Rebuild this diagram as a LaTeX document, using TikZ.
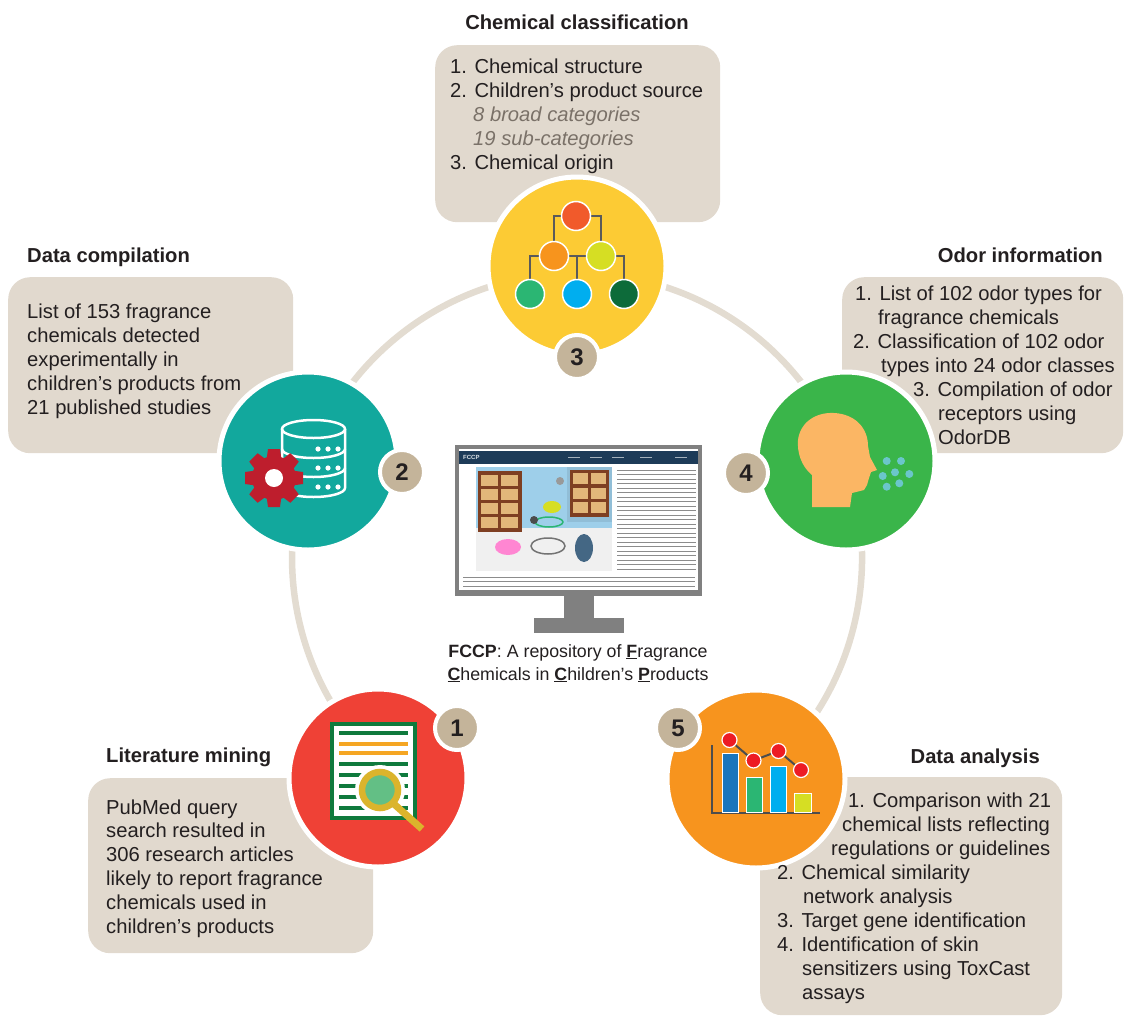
\documentclass[tikz,border=0pt]{standalone}
\usepackage{fontspec}
\setmainfont{Liberation Sans}
\usetikzlibrary{positioning}
\definecolor{panelbeige}{HTML}{E1D9CE}
\definecolor{ringbeige}{HTML}{E3DCD1}
\definecolor{badgetan}{HTML}{C4B49A}
\definecolor{textdark}{HTML}{231F20}
\definecolor{italgray}{HTML}{7A7168}
\definecolor{stagered}{HTML}{EF4136}
\definecolor{stageteal}{HTML}{12A89D}
\definecolor{stageyellow}{HTML}{FCCB34}
\definecolor{stagegreen}{HTML}{3AB54A}
\definecolor{stageorange}{HTML}{F7941E}
\definecolor{gearred}{HTML}{BE1E2D}
\definecolor{headorange}{HTML}{FBB664}
\definecolor{dotteal}{HTML}{6BC6CB}
\definecolor{docgreen}{HTML}{0F7A3D}
\definecolor{docorange}{HTML}{F5A623}
\definecolor{lensgold}{HTML}{DBB42C}
\definecolor{lensgreen}{HTML}{63BF85}
\definecolor{treegray}{HTML}{5A5A5A}
\definecolor{chemA}{HTML}{F15A2B}
\definecolor{chemB}{HTML}{F7941D}
\definecolor{chemC}{HTML}{D6DE23}
\definecolor{chemD}{HTML}{2BB673}
\definecolor{chemE}{HTML}{00AEEF}
\definecolor{chemF}{HTML}{0D6B3A}
\definecolor{barblue}{HTML}{1B75BB}
\definecolor{dotred}{HTML}{ED1C24}
\definecolor{axisgray}{HTML}{4D4D4D}
\definecolor{monitorgray}{HTML}{808080}
\definecolor{navy}{HTML}{1D3B58}
\definecolor{skyblue}{HTML}{9ECFEA}
\definecolor{shelfbrown}{HTML}{7E3F22}
\definecolor{shelftan}{HTML}{E2B77A}
\newcommand\panelfont{\fontsize{20.2}{24.2}\selectfont}
\newcommand\captionfont{\fontsize{17.8}{23}\selectfont}

\begin{document}
\begin{tikzpicture}[x=1pt, y=-1pt,
    panel/.style={fill=panelbeige, rounded corners=22pt, inner sep=0pt, anchor=north west},
    stage/.style={circle, draw=white, line width=5pt, minimum size=178pt, inner sep=0pt},
    badge/.style={circle, fill=badgetan, draw=white, line width=4pt, minimum size=44pt,
      inner sep=0pt, text=textdark, font=\bfseries\fontsize{24}{24}\selectfont},
    heading/.style={font=\bfseries\panelfont, text=textdark, inner sep=0pt},
    body/.style={font=\panelfont, text=textdark, inner sep=0pt, anchor=base west},
    chem/.style={circle, draw=white, line width=1.5pt, minimum size=29pt, inner sep=0pt},
    bar/.style={draw=white, line width=1pt},
    mark dot/.style={circle, fill=dotred, draw=white, line width=1.2pt, minimum size=15pt, inner sep=0pt}
  ]
  \useasboundingbox (0,0) rectangle (1124,1017);

  % arc joining the five stages, open at the bottom
  \draw[ringbeige, line width=6.5pt] (756.4,779.5) arc[start angle=51, end angle=-228, radius=285];

  % text panels
  \node[panel, minimum width=285pt, minimum height=177pt] (chempanel) at (435,45) {};
  \node[panel, minimum width=285pt, minimum height=176pt] (datapanel) at (8,277) {};
  \node[panel, minimum width=281pt, minimum height=176pt] (odorpanel) at (842,277) {};
  \node[panel, minimum width=285pt, minimum height=175pt] (litpanel) at (88,778) {};
  \node[panel, minimum width=302pt, minimum height=238pt] (anapanel) at (760,777) {};

  % stage discs
  \node[stage, fill=stageyellow] (classify) at (577,266) {};
  \node[stage, fill=stageteal] (compile) at (308,461) {};
  \node[stage, fill=stagegreen] (odor) at (846,461) {};
  \node[stage, fill=stagered] (mining) at (378,778) {};
  \node[stage, fill=stageorange] (analysis) at (756,779) {};

  % classification tree
  \coordinate (ctop) at (576,216);
  \coordinate (cmidl) at (554,256);
  \coordinate (cmidr) at (601,256);
  \coordinate (cbotl) at (530,294);
  \coordinate (cbotm) at (577,294);
  \coordinate (cbotr) at (624,294);
  \draw[treegray, line width=2pt] (ctop) -| (cmidl) (ctop) -| (cmidr)
    (cmidl) -- (cmidr) (cmidl) -| (cbotl) (cmidl) -| (cbotm) (cmidr) -| (cbotr);
  \node[chem, fill=chemA] (ntop) at (ctop) {};
  \node[chem, fill=chemB] (nmidl) at (cmidl) {};
  \node[chem, fill=chemC] (nmidr) at (cmidr) {};
  \node[chem, fill=chemD] (nbotl) at (cbotl) {};
  \node[chem, fill=chemE] (nbotm) at (cbotm) {};
  \node[chem, fill=chemF] (nbotr) at (cbotr) {};

  % database and gear
  \begin{scope}[white, line width=2.5pt]
    \draw (313.5,429) ellipse (31.5 and 9);
    \draw (282,429) -- (282,488) arc[start angle=180, end angle=0, x radius=31.5, y radius=9] -- (345,429);
    \draw (282,449) arc[start angle=180, end angle=0, x radius=31.5, y radius=9];
    \draw (282,468) arc[start angle=180, end angle=0, x radius=31.5, y radius=9];
    \foreach \dy in {449,468,487}
      \foreach \dx in {318,328,338}
        \fill (\dx,\dy) circle[radius=2.6];
  \end{scope}
  \fill[gearred] (274,478) circle[radius=22];
  \foreach \a in {0,45,...,315}
    \fill[gearred, rotate around={\a:(274,478)}] (268,449) -- (280,449) -- (281.5,460) -- (266.5,460) -- cycle;
  \fill[white] (274,478) circle[radius=9];

  % head with odor particles
  \fill[headorange] (812,507) -- (812,475)
    .. controls (801,466) and (797,452) .. (798,440)
    .. controls (800,423) and (815,412) .. (834,413)
    .. controls (855,414) and (868,428) .. (868,446)
    -- (870,457) -- (877,470) -- (871,472) -- (869,478) -- (867,485)
    -- (864,490) -- (852,493) -- (850,507) -- cycle;
  \foreach \dx/\dy in {886.7/461, 901/461, 882.7/476, 895/472.3, 909.3/474, 886.7/486.7, 899.3/483.3}
    \fill[dotteal] (\dx,\dy) circle[radius=4];

  % document under a magnifier
  \filldraw[fill=white, draw=docgreen, line width=4pt] (332,724) rectangle (415,818);
  \foreach \ly/\lc in {733/docgreen, 744/docorange, 753/docorange, 764/docgreen,
      775/docgreen, 786/docgreen, 797/docgreen, 808/docgreen}
    \draw[\lc, line width=3.5pt] (339,\ly) -- (408,\ly);
  \fill[white] (380,790) circle[radius=25];
  \draw[lensgold, line width=7pt] (394,804) -- (422,829);
  \fill[lensgreen] (380,790) circle[radius=15.5];
  \draw[lensgold, line width=6.5pt] (380,790) circle[radius=18];

  % bar chart with trend line
  \draw[axisgray, line width=2.5pt] (712,745) |- (820,813);
  \path[bar, fill=barblue] (722,753) rectangle (738,812);
  \path[bar, fill=chemD] (746,777) rectangle (762,812);
  \path[bar, fill=chemE] (770,766) rectangle (786,812);
  \path[bar, fill=chemC] (794,793) rectangle (811,812);
  \coordinate (p1) at (729.5,740);
  \coordinate (p2) at (753.5,760.5);
  \coordinate (p3) at (778.5,751);
  \coordinate (p4) at (801,770);
  \draw[axisgray, line width=2pt] (p1) -- (p2) -- (p3) -- (p4);
  \foreach \p in {1,...,4}
    \node[mark dot] (dot\p) at (p\p) {};

  % step badges
  \node[badge] (badge1) at (457,728) {1};
  \node[badge] (badge2) at (402,472) {2};
  \node[badge] (badge3) at (577,357) {3};
  \node[badge] (badge4) at (746,473) {4};
  \node[badge] (badge5) at (678,728) {5};

  % monitor with the website
  \fill[monitorgray] (455,445) rectangle (702,596);
  \fill[white] (459,449) rectangle (698,590);
  \fill[monitorgray] (564,595) rectangle (594,618);
  \fill[monitorgray] (534,617.5) rectangle (624,633);
  \fill[navy] (459,450.5) rectangle (698,464);
  \node[font=\fontsize{6}{6}\selectfont\bfseries, text=white!85!navy, inner sep=0pt, anchor=west]
    (sitelogo) at (463,457) {FCCP};
  \foreach \hx in {568,590,612,640,675}
    \fill[white!60!navy] (\hx,456.5) rectangle +(12,1.6);
  \fill[skyblue] (476,467) rectangle (612,528);
  \fill[black!6] (476,528) rectangle (612,571);
  \fill[shelfbrown] (478,471) rectangle (522,532);
  \foreach \cx in {0,1}
    \foreach \cy in {0,...,3}
      \fill[shelftan] (481+20*\cx,475+14*\cy) rectangle +(17,11);
  \fill[black!8!skyblue] (567,467) rectangle (612,522);
  \fill[shelfbrown] (570,470) rectangle (609,517);
  \foreach \cx in {0,1}
    \foreach \cy in {0,1,2}
      \fill[shelftan] (573+18*\cx,473+14.5*\cy) rectangle +(15,11);
  \fill[chemC] (552,507) ellipse (9 and 6);
  \draw[chemD, line width=1.5pt] (549,522) ellipse (14 and 5);
  \draw[black!55, line width=1.5pt] (548,546) ellipse (17 and 8);
  \fill[pink!70!magenta] (508,547) ellipse (13 and 8);
  \fill[navy!70!skyblue] (584,548) ellipse (9 and 14);
  \fill[black!40] (560,481) circle[radius=4];
  \fill[black!70] (534,520) circle[radius=4];
  \foreach \ty in {470,474.5,...,569}
    \draw[black!45, line width=0.9pt] (617,\ty) -- (696,\ty);
  \foreach \ty in {577,581.5,586}
    \draw[black!45, line width=0.9pt] (463,\ty) -- (695,\ty);

  % caption
  \node[font=\captionfont, text=textdark, inner sep=0pt, anchor=base] (caption1) at (578,657)
    {\textbf{FCCP}: A repository of \underline{\textbf{F}}ragrance};
  \node[font=\captionfont, text=textdark, inner sep=0pt, anchor=base] (caption2) at (578,680)
    {\underline{\textbf{C}}hemicals in \underline{\textbf{C}}hildren’s \underline{\textbf{P}}roducts};

  % headings
  \node[heading, anchor=base] (chemtitle) at (577,29) {Chemical classification};
  \node[heading, anchor=base west] (datatitle) at (27,262) {Data compilation};
  \node[heading, anchor=base east] (odortitle) at (1103,262) {Odor information};
  \node[heading, anchor=base west] (littitle) at (106,762) {Literature mining};
  \node[heading, anchor=base east] (anatitle) at (1040,763) {Data analysis};

  % panel texts
  \foreach \dx/\txt [count=\i] in {0/{1. Chemical structure}, 0/{2. Children’s product source},
      23/{\color{italgray}\itshape 8 broad categories}, 23/{\color{italgray}\itshape 19 sub-categories},
      0/{3. Chemical origin}}
    \node[body] (chemline\i) at (450+\dx, 73+24.2*\i-24.2) {\txt};
  \foreach \txt [count=\i] in {List of 153 fragrance, chemicals detected, experimentally in,
      children’s products from, 21 published studies}
    \node[body] (dataline\i) at (27, 318+24.2*\i-24.2) {\txt};
  \foreach \dx/\txt [count=\i] in {2/{1. List of 102 odor types for}, 25/{fragrance chemicals},
      0/{2. Classification of 102 odor}, 28/{types into 24 odor classes},
      60/{3. Compilation of odor}, 85/{receptors using}, 85/{OdorDB}}
    \node[body] (odorline\i) at (853+\dx, 300.7+23.9*\i-23.9) {\txt};
  \foreach \txt [count=\i] in {PubMed query, search resulted in, 306 research articles,
      likely to report fragrance, chemicals used in, children’s products}
    \node[body] (litline\i) at (106, 814+23.9*\i-23.9) {\txt};
  \foreach \lx/\txt [count=\i] in {848/{1. Comparison with 21}, 842/{chemical lists reflecting},
      831/{regulations or guidelines}, 777/{2. Chemical similarity}, 803/{network analysis},
      777/{3. Target gene identification}, 777/{4. Identification of skin},
      802/{sensitizers using ToxCast}, 802/{assays}}
    \node[body] (analine\i) at (\lx, 807.3+24*\i-24) {\txt};
\end{tikzpicture}
\end{document}
